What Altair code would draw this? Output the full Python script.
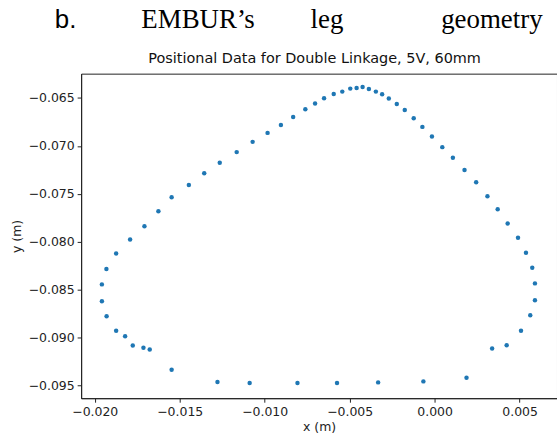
import altair as alt
import pandas as pd

# Positional data (m), traced around the loop
x_vals = [
    -0.019578, -0.019578, -0.019314, -0.018740, -0.017919, -0.017075, -0.016254,
    -0.015475, -0.014461, -0.013558, -0.012644, -0.011647, -0.010709, -0.009830,
    -0.009045, -0.008324, -0.007608, -0.007034, -0.006506, -0.005938, -0.005434,
    -0.004965, -0.004590, -0.004238, -0.003869, -0.003458, -0.003089, -0.002696,
    -0.002227, -0.001758, -0.001231, -0.000721, -0.000158, 0.000451, 0.001073,
    0.001758, 0.002444, 0.003107, 0.003710, 0.004297, 0.004906, 0.005375,
    0.005744, 0.005903, 0.005903, 0.005627, 0.005082, 0.004238, 0.003382,
    0.001876, -0.000662, -0.003324, -0.005744, -0.008071, -0.010885, -0.012778,
    -0.015475, -0.016764, -0.017134, -0.017761, -0.018212, -0.018740, -0.019302,
]
y_vals = [
    -0.086228, -0.084459, -0.082856, -0.081233, -0.079776, -0.078382, -0.076821,
    -0.075364, -0.074084, -0.072867, -0.071764, -0.070650, -0.069579, -0.068642,
    -0.067810, -0.066977, -0.066176, -0.065583, -0.065031, -0.064584, -0.064334,
    -0.064022, -0.063959, -0.063855, -0.064063, -0.064334, -0.064615, -0.065062,
    -0.065624, -0.066249, -0.067112, -0.068018, -0.069017, -0.070130, -0.071243,
    -0.072523, -0.073803, -0.075260, -0.076613, -0.078111, -0.079600, -0.081160,
    -0.082721, -0.084355, -0.086124, -0.087685, -0.089308, -0.090806, -0.091150,
    -0.094199, -0.094584, -0.094688, -0.094761, -0.094761, -0.094761, -0.094656,
    -0.093366, -0.091254, -0.091077, -0.090837, -0.089870, -0.089308, -0.087789,
]
x_ticks = [-0.020, -0.015, -0.010, -0.005, 0.000, 0.005]
y_ticks = [-0.095, -0.090, -0.085, -0.080, -0.075, -0.070, -0.065]

header_words = ["b.", "EMBUR\u2019s", "leg", "geometry"]
chart_title = ["Positional Data for Double Linkage, 5V, 60mm"]

df = pd.DataFrame({"x": x_vals, "y": y_vals})

W, H = 478, 326
LEFT, TOP = 81.5, 73

points = alt.Chart(df).mark_circle(size=20, opacity=1, color="#1f77b4").encode(
    x=alt.X("x:Q", title="x (m)",
            scale=alt.Scale(domain=[-0.0208, 0.0072], nice=False, zero=False),
            axis=alt.Axis(values=x_ticks, format=".3f", grid=False)),
    y=alt.Y("y:Q", title="y (m)",
            scale=alt.Scale(domain=[-0.09634, -0.06246], nice=False, zero=False),
            axis=alt.Axis(values=y_ticks, format=".3f", grid=False)),
)

hdr = pd.DataFrame({"w": header_words})
ttl = pd.DataFrame({"t": chart_title})

def word(i, xpos, font, size, align="left"):
    return alt.Chart(hdr.iloc[[i]]).mark_text(
        font=font, fontSize=size, align=align, baseline="alphabetic", color="#000"
    ).encode(text="w:N", x=alt.value(xpos), y=alt.value(-46))

title_mark = alt.Chart(ttl).mark_text(
    font="DejaVu Sans", fontSize=14.5, align="center", baseline="alphabetic",
    color="#111"
).encode(text="t:N", x=alt.value(316 - LEFT), y=alt.value(62 - TOP))

header = alt.layer(
    word(0, 55 - LEFT, "Liberation Sans", 26),
    word(1, 142 - LEFT, "Liberation Serif", 27),
    word(2, 312 - LEFT, "Liberation Serif", 27),
    word(3, 545 - LEFT, "Liberation Serif", 27, align="right"),
)

chart = alt.layer(points, header, title_mark).properties(
    width=W, height=H,
    autosize=alt.AutoSizeParams(type="none"),
    padding={"left": LEFT, "top": TOP, "right": 0, "bottom": 41},
).configure_view(
    stroke="#222", strokeWidth=1
).configure_axis(
    labelFont="DejaVu Sans", titleFont="DejaVu Sans",
    labelFontSize=12.5, titleFontSize=12.5, titleFontWeight="normal",
    labelColor="#222", titleColor="#222",
    domainColor="#222", tickColor="#222", tickSize=4, labelPadding=3,
    domain=True,
).configure_axisX(
    titlePadding=3
).configure_axisY(
    titlePadding=5
)

chart.save("out.html", embed_options={"renderer": "svg", "actions": False})
